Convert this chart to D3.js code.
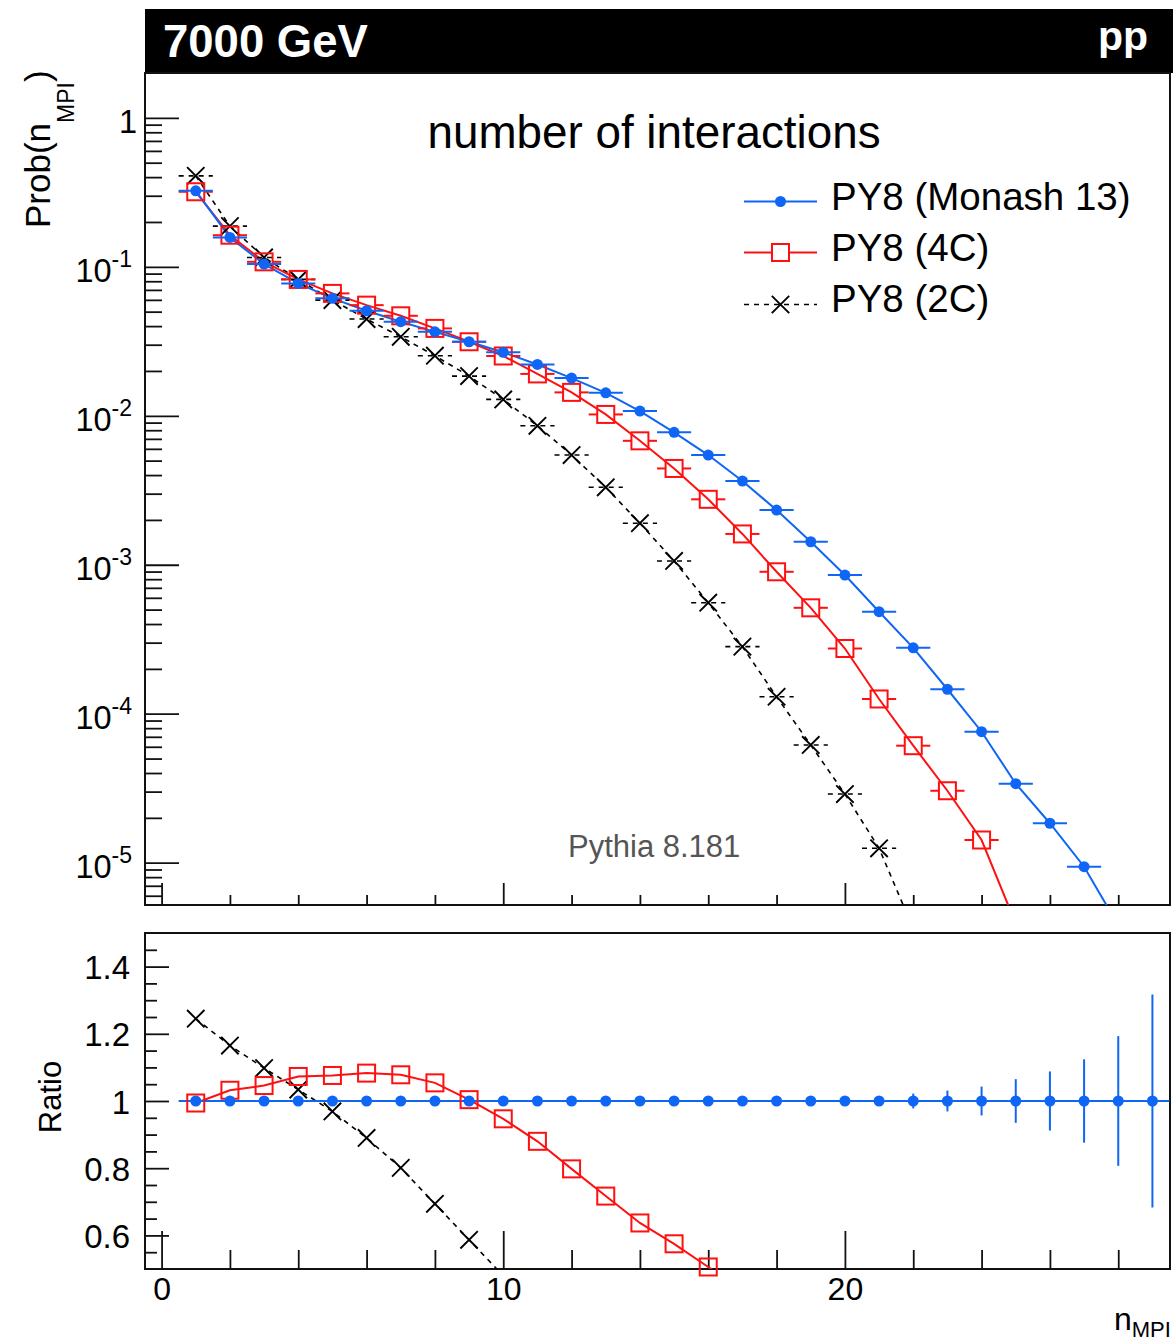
<!DOCTYPE html>
<html>
<head>
<meta charset="utf-8">
<script src="https://cdn.jsdelivr.net/npm/d3@7"></script>
<style>
  body { margin: 0; background: #fff; }
  svg { display: block; }
  text { font-family: "Liberation Sans", Arial, Helvetica, sans-serif; }
</style>
</head>
<body>
<svg id="chart" width="1173" height="1342"></svg>
<script>
// ---- data: probability of n multiparton interactions, pp at 7000 GeV ----
const nMPI = [1, 2, 3, 4, 5, 6, 7, 8, 9, 10, 11, 12, 13, 14, 15, 16, 17, 18, 19, 20,
              21, 22, 23, 24, 25, 26, 27, 28, 29];

const probMonash = [0.3236, 0.1574, 0.1043, 0.0774, 0.0614, 0.0507, 0.0428, 0.0366, 0.0314, 0.0267,
                    0.0221, 0.0179, 0.01426, 0.01075, 0.00774, 0.00545, 0.00365, 0.00233, 0.001427, 0.000853,
                    0.000484, 0.000277, 0.000146, 7.57e-5, 3.39e-5, 1.84e-5, 9.4e-6, 3.8e-6, 1.6e-6];

const prob4C = [0.319, 0.163, 0.108, 0.0823, 0.0663, 0.0553, 0.0469, 0.0386, 0.0314, 0.0252,
                0.0191, 0.01436, 0.01021, 0.00679, 0.00443, 0.00275, 0.00161, 0.000897, 0.000514, 0.000274,
                0.0001256, 6.1e-5, 3.04e-5, 1.42e-5, 3.9e-6];

const prob2C = [0.408, 0.1876, 0.1156, 0.0823, 0.0598, 0.0446, 0.0339, 0.0253, 0.01847, 0.01288,
                0.00857, 0.00545, 0.00331, 0.0019, 0.00106, 0.000556, 0.000282, 0.00013, 6.17e-5, 2.89e-5,
                1.25e-5, 3.6e-6];

// ratios to Monash 13
const ratio4C = [0.994, 1.032, 1.046, 1.073, 1.076, 1.083, 1.078, 1.054, 1.004, 0.947,
                 0.880, 0.798, 0.717, 0.637, 0.575, 0.506, 0.44];
const ratio2C = [1.245, 1.165, 1.098, 1.034, 0.969, 0.890, 0.801, 0.694, 0.587, 0.48];
const ratioErrMonash = [0.001, 0.001, 0.001, 0.001, 0.001, 0.001, 0.001, 0.001, 0.001, 0.001,
                        0.001, 0.001, 0.002, 0.002, 0.002, 0.003, 0.003, 0.004, 0.005, 0.007,
                        0.012, 0.022, 0.031, 0.043, 0.065, 0.088, 0.124, 0.193, 0.317];

// tick labels
const topTickValues = [1, 1e-1, 1e-2, 1e-3, 1e-4, 1e-5];
const topTickBase = ["1", "10", "10", "10", "10", "10"];
const topTickExp = ["", "-1", "-2", "-3", "-4", "-5"];
const ratioTickValues = [0.6, 0.8, 1, 1.2, 1.4];
const ratioTickLabels = ["0.6", "0.8", "1", "1.2", "1.4"];
const xTickValues = [0, 10, 20];
const xTickLabels = ["0", "10", "20"];

const seriesNames = ["PY8 (Monash 13)", "PY8 (4C)", "PY8 (2C)"];

// ---- styling ----
const BLUE = "#0f66f5", RED = "#ff1010", BLACK = "#000";
const svg = d3.select("#chart");
svg.append("rect").attr("width", 1173).attr("height", 1342).attr("fill", "#fff");

// ---- scales ----
const L = 145, R = 1170;
const TOP_T = 73, TOP_B = 905, RAT_T = 933, RAT_B = 1269;
const x = d3.scaleLinear().domain([-0.5, 29.5]).range([L - 0.5, R - 0.5]);
const yTop = d3.scaleLog().domain([5.2e-6, 2]).range([TOP_B, TOP_T]);
const yRat = d3.scaleLinear().domain([0.5, 1.5]).range([RAT_B, RAT_T]);

// clip regions
const defs = svg.append("defs");
defs.append("clipPath").attr("id", "clipTop").append("rect")
  .attr("x", L).attr("y", TOP_T).attr("width", R - L).attr("height", TOP_B - TOP_T);
defs.append("clipPath").attr("id", "clipRat").append("rect")
  .attr("x", L).attr("y", RAT_T).attr("width", R - L).attr("height", RAT_B - RAT_T);

// ---- header bar ----
svg.append("rect").attr("x", L).attr("y", 9).attr("width", 1173 - L).attr("height", 64).attr("fill", "#000");
svg.append("text").attr("x", 163).attr("y", 57).attr("fill", "#fff")
  .attr("font-size", 45.5).attr("font-weight", "bold").text("7000 GeV");
svg.append("text").attr("x", 1148).attr("y", 50).attr("fill", "#fff").attr("text-anchor", "end")
  .attr("font-size", 41).attr("font-weight", "bold").text("pp");

// ---- axes (ticks drawn inward, ROOT style) ----
function styleAxis(g) {
  g.select(".domain").remove();
  g.selectAll(".tick line").attr("stroke", "#111").attr("stroke-width", 1.8);
}

// main panel, y (log)
const topMinor = [];
for (let e = -6; e <= 0; e++) for (let k = 2; k <= 9; k++) {
  const v = k * Math.pow(10, e);
  if (v > 5.2e-6 && v < 2) topMinor.push(v);
}
svg.append("g").attr("transform", `translate(${L},0)`)
  .call(d3.axisLeft(yTop).tickValues(topMinor).tickSize(-17).tickFormat(""))
  .call(styleAxis);
svg.append("g").attr("transform", `translate(${L},0)`)
  .call(d3.axisLeft(yTop).tickValues(topTickValues).tickSize(-34).tickFormat(""))
  .call(styleAxis);

// main panel y labels with superscript exponents
topTickValues.forEach((v, i) => {
  const t = svg.append("text").attr("text-anchor", "end")
    .attr("x", topTickExp[i] ? 132 : 137).attr("y", yTop(v) + 15).attr("font-size", 32.5);
  t.append("tspan").text(topTickBase[i]);
  if (topTickExp[i]) t.append("tspan").attr("font-size", 23).attr("dy", -15).text(topTickExp[i]);
});

// main panel x ticks
const xMinor = d3.range(0, 30, 2).filter(v => v % 10 !== 0);
svg.append("g").attr("transform", `translate(0,${TOP_B})`)
  .call(d3.axisBottom(x).tickValues(xMinor).tickSize(-10).tickFormat(""))
  .call(styleAxis);
svg.append("g").attr("transform", `translate(0,${TOP_B})`)
  .call(d3.axisBottom(x).tickValues(xTickValues).tickSize(-22).tickFormat(""))
  .call(styleAxis);

// ratio panel, y
const ratMinor = d3.range(0.55, 1.5, 0.05).filter(v => Math.abs(Math.round(v * 5) - v * 5) > 1e-6);
svg.append("g").attr("transform", `translate(${L},0)`)
  .call(d3.axisLeft(yRat).tickValues(ratMinor).tickSize(-12).tickFormat(""))
  .call(styleAxis);
svg.append("g").attr("transform", `translate(${L},0)`)
  .call(d3.axisLeft(yRat).tickValues(ratioTickValues).tickSize(-24).tickPadding(15)
        .tickFormat((d, i) => ratioTickLabels[i]))
  .call(styleAxis)
  .call(g => g.selectAll("text").attr("font-size", 33).attr("fill", "#000")
                .attr("dy", null).attr("y", 12)
                .style("font-family", '"Liberation Sans", Arial, Helvetica, sans-serif'));

// ratio panel, x
svg.append("g").attr("transform", `translate(0,${RAT_B})`)
  .call(d3.axisBottom(x).tickValues(xMinor).tickSize(-19).tickFormat(""))
  .call(styleAxis);
svg.append("g").attr("transform", `translate(0,${RAT_B})`)
  .call(d3.axisBottom(x).tickValues(xTickValues).tickSize(-38).tickPadding(8)
        .tickFormat((d, i) => xTickLabels[i]))
  .call(styleAxis)
  .call(g => g.selectAll("text").attr("font-size", 32).attr("fill", "#000")
                .attr("dy", null).attr("y", 31)
                .style("font-family", '"Liberation Sans", Arial, Helvetica, sans-serif'));

// frames
svg.append("rect").attr("x", L).attr("y", TOP_T).attr("width", R - L).attr("height", TOP_B - TOP_T)
  .attr("fill", "none").attr("stroke", "#111").attr("stroke-width", 2);
svg.append("rect").attr("x", L).attr("y", RAT_T).attr("width", R - L).attr("height", RAT_B - RAT_T)
  .attr("fill", "none").attr("stroke", "#111").attr("stroke-width", 2);

// ---- axis titles ----
const yTitle = svg.append("text").attr("transform", "translate(50,228) rotate(-90)")
  .attr("font-size", 35);
yTitle.append("tspan").text("Prob(n");
yTitle.append("tspan").attr("font-size", 23).attr("dy", 24).text("MPI");
yTitle.append("tspan").attr("dy", -24).text(")");

svg.append("text").attr("transform", "translate(61,1097) rotate(-90)")
  .attr("text-anchor", "middle").attr("font-size", 31).text("Ratio");

const xTitle = svg.append("text").attr("x", 1114).attr("y", 1330).attr("font-size", 32);
xTitle.append("tspan").text("n");
xTitle.append("tspan").attr("font-size", 22).attr("dy", 7).text("MPI");

// ---- texts ----
svg.append("text").attr("x", 654).attr("y", 148).attr("text-anchor", "middle")
  .attr("font-size", 45.8).text("number of interactions");
svg.append("text").attr("x", 568).attr("y", 857).attr("font-size", 31).attr("fill", "#555")
  .text("Pythia 8.181");

// ---- marker helpers ----
const SQ = 17, XH = 8.7, DOT_R = 5.5;
function drawDot(g, cx, cy, color) {
  g.append("circle").attr("cx", cx).attr("cy", cy).attr("r", DOT_R).attr("fill", color);
}
function drawSquare(g, cx, cy, color) {
  g.append("rect").attr("x", cx - SQ / 2).attr("y", cy - SQ / 2).attr("width", SQ).attr("height", SQ)
    .attr("fill", "none").attr("stroke", color).attr("stroke-width", 2);
}
function drawCross(g, cx, cy, color) {
  g.append("path")
    .attr("d", `M${cx - XH},${cy - XH}L${cx + XH},${cy + XH}M${cx - XH},${cy + XH}L${cx + XH},${cy - XH}`)
    .attr("stroke", color).attr("stroke-width", 1.9).attr("fill", "none");
}

// ---- main panel curves ----
const mainG = svg.append("g");
const mainLines = mainG.append("g").attr("clip-path", "url(#clipTop)");
const lineTop = d3.line().x(d => x(d[0])).y(d => yTop(d[1]));

const series = [
  { vals: probMonash, color: BLUE, dash: null, marker: drawDot, gap: 0 },
  { vals: prob4C, color: RED, dash: null, marker: drawSquare, gap: SQ / 2 },
  { vals: prob2C, color: BLACK, dash: "5,5", marker: drawCross, gap: 0 }
];

// draw order: 2C, 4C, Monash on top
[2, 1, 0].forEach(si => {
  const s = series[si];
  const pts = s.vals.map((v, i) => [nMPI[i], v]);
  mainLines.append("path").datum(pts).attr("d", lineTop)
    .attr("fill", "none").attr("stroke", s.color).attr("stroke-width", s.dash ? 1.6 : 2)
    .attr("stroke-dasharray", s.dash);
  const inRange = pts.filter(p => p[1] >= 5.2e-6);
  // horizontal bin-width bars
  inRange.forEach(p => {
    const cx = x(p[0]), cy = yTop(p[1]);
    const segs = s.gap ? [[x(p[0] - 0.5), cx - s.gap], [cx + s.gap, x(p[0] + 0.5)]]
                       : [[x(p[0] - 0.5), x(p[0] + 0.5)]];
    segs.forEach(sg => mainG.append("line").attr("x1", sg[0]).attr("x2", sg[1]).attr("y1", cy).attr("y2", cy)
      .attr("stroke", s.color).attr("stroke-width", s.dash ? 1.6 : 2).attr("stroke-dasharray", s.dash));
  });
  inRange.forEach(p => s.marker(mainG, x(p[0]), yTop(p[1]), s.color));
});

// ---- legend ----
const legend = svg.append("g");
const legRows = [
  { y: 201.5, base: 210, color: BLUE, dash: null, marker: drawDot },
  { y: 252.5, base: 260.5, color: RED, dash: null, marker: drawSquare },
  { y: 304.5, base: 311.5, color: BLACK, dash: "5,5", marker: drawCross }
];
legRows.forEach((r, i) => {
  legend.append("line").attr("x1", 744).attr("x2", 817).attr("y1", r.y).attr("y2", r.y)
    .attr("stroke", r.color).attr("stroke-width", r.dash ? 1.6 : 2).attr("stroke-dasharray", r.dash);
  if (i === 1) legend.append("rect").attr("x", 780.5 - SQ / 2).attr("y", r.y - SQ / 2)
      .attr("width", SQ).attr("height", SQ).attr("fill", "#fff");
  r.marker(legend, 780.5, r.y, r.color);
  legend.append("text").attr("x", 831).attr("y", r.base).attr("font-size", 38.5).text(seriesNames[i]);
});

// ---- ratio panel ----
const ratG = svg.append("g");
const ratLines = ratG.append("g").attr("clip-path", "url(#clipRat)");
const lineRat = d3.line().x(d => x(d[0])).y(d => yRat(d[1]));

// 2C
const r2 = ratio2C.map((v, i) => [nMPI[i], v]);
ratLines.append("path").datum(r2).attr("d", lineRat).attr("fill", "none")
  .attr("stroke", BLACK).attr("stroke-width", 1.6).attr("stroke-dasharray", "5,5");
r2.filter(p => p[1] >= 0.5).forEach(p => drawCross(ratG, x(p[0]), yRat(p[1]), BLACK));

// 4C
const r4 = ratio4C.map((v, i) => [nMPI[i], v]);
ratLines.append("path").datum(r4).attr("d", lineRat).attr("fill", "none")
  .attr("stroke", RED).attr("stroke-width", 2);
r4.filter(p => p[1] >= 0.5).forEach(p => drawSquare(ratG, x(p[0]), yRat(p[1]), RED));

// Monash reference (ratio = 1) with statistical errors
const rm = nMPI.map((n, i) => [n, 1, ratioErrMonash[i]]);
ratLines.append("line").attr("x1", x(rm[0][0] - 0.5)).attr("x2", x(rm[rm.length - 1][0] + 0.5))
  .attr("y1", yRat(1)).attr("y2", yRat(1)).attr("stroke", BLUE).attr("stroke-width", 2);
rm.forEach(p => {
  ratLines.append("line").attr("x1", x(p[0])).attr("x2", x(p[0]))
    .attr("y1", yRat(p[1] - p[2])).attr("y2", yRat(p[1] + p[2]))
    .attr("stroke", BLUE).attr("stroke-width", 2);
  drawDot(ratG, x(p[0]), yRat(p[1]), BLUE);
});
</script>
</body>
</html>
